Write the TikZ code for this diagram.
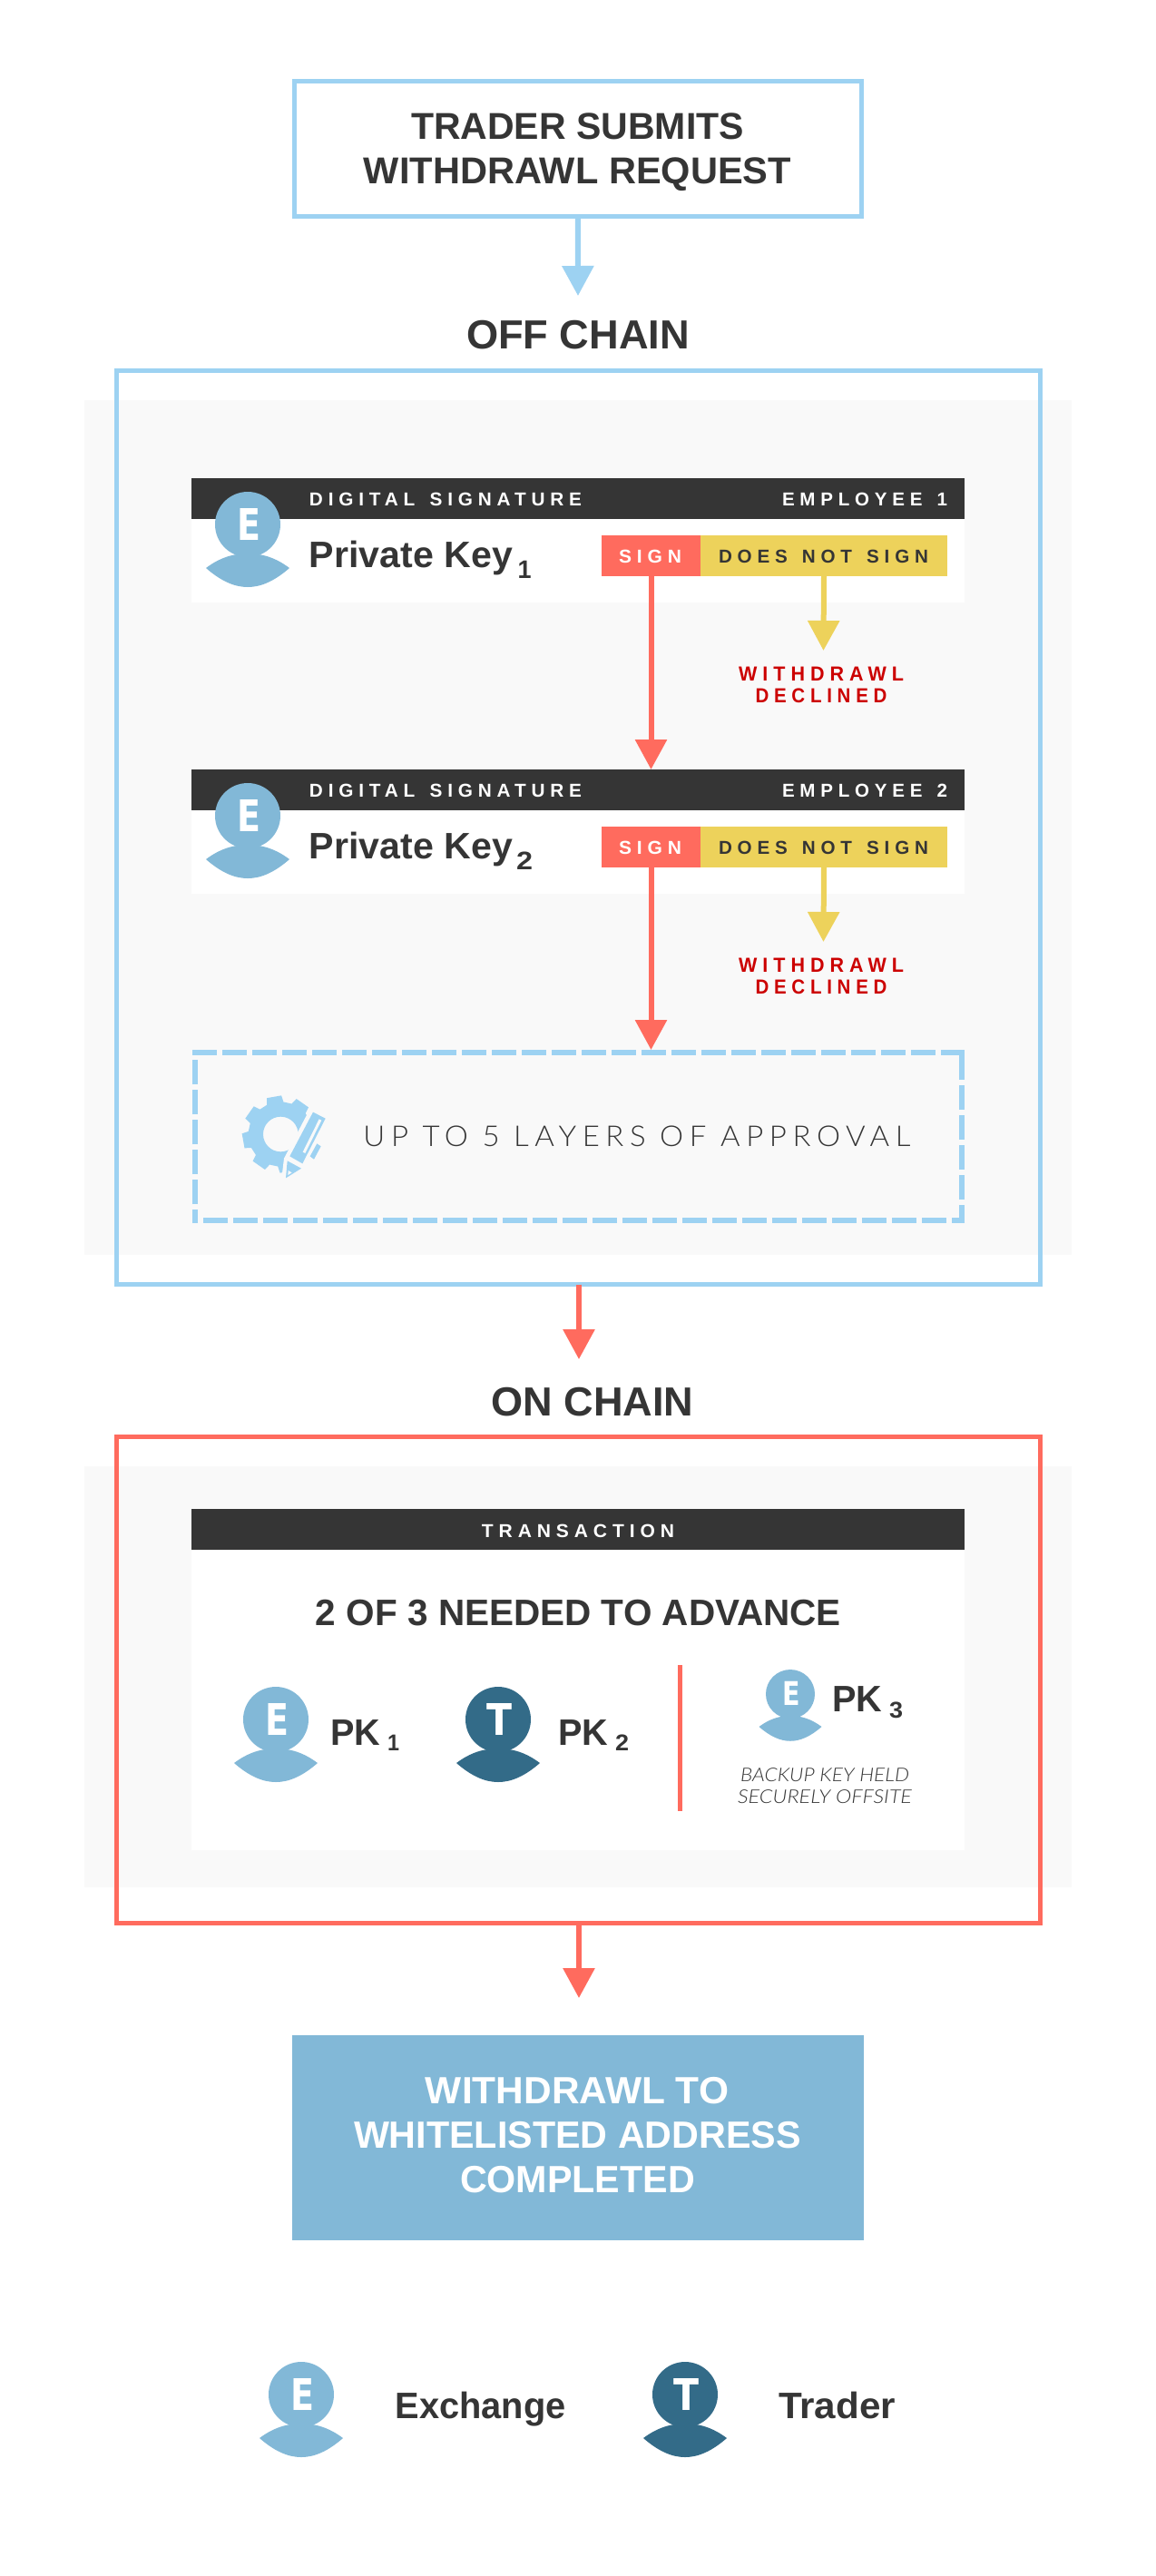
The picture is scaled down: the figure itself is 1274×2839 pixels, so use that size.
\documentclass[tikz,border=0pt]{standalone}
\usepackage{graphicx}
\usepackage{fontspec}
\usetikzlibrary{arrows.meta}
\newfontfamily\fbx{Liberation Sans}
\newfontfamily\flt{DejaVu Sans}
\newfontfamily\fsx{Liberation Sans}[LetterSpace=28,WordSpace=1.4]
\newfontfamily\fl{Lato}[UprightFont=* Light,ItalicFont=* Light Italic]
\newfontfamily\flsx{Lato}[UprightFont=* Light,LetterSpace=20]
\newcommand\fb{\fbx\bfseries}
\newcommand\fsp{\fsx\bfseries}
\newlength\ux \setlength\ux{0.5pt}
\definecolor{lblue}{HTML}{9DD2F2}
\definecolor{mblue}{HTML}{82B8D7}
\definecolor{dblue}{HTML}{336B88}
\definecolor{ink}{HTML}{353535}
\definecolor{coral}{HTML}{FF6B5E}
\definecolor{sun}{HTML}{EDD25B}
\definecolor{deep}{HTML}{CC0000}
\definecolor{bgray}{HTML}{F9F9F9}
\tikzset{
  rectbox/.style={rectangle,inner sep=0pt,outer sep=0pt},
  txt/.style={inner sep=0pt,outer sep=0pt,anchor=base},
  arr/.style={line width=3pt,-{Triangle[length=16.5pt,width=17pt]}},
  dashside/.style={lblue,line width=3pt,dash pattern=on 13.5pt off 3pt}
}
% name x1 y1 x2 y2 style
\newcommand\R[6]{\node[rectbox,#6,minimum width={((#4)-(#2))*0.5pt},minimum height={((#5)-(#3))*0.5pt}] (#1) at ({((#2)+(#4))/2},{((#3)+(#5))/2}) {};}
% name x baseline width colour size font text
\newcommand\T[8]{\node[txt,text=#5] (#1) at (#2,#3) {#7\fontsize{#6}{#6}\selectfont\resizebox{#4\ux}{\height}{#8}};}
% name x y scale colour letter-width letter
\newcommand\avatar[7]{%
\begin{scope}[shift={(#2,#3)},scale=#4,transform shape]
  \fill[#5] (0,0) circle (36);
  \fill[#5] (-46,48) .. controls (-30,36) and (-15,32) .. (0,32) .. controls (15,32) and (30,36) .. (46,48)
     .. controls (30,62) and (15,69) .. (0,69) .. controls (-15,69) and (-30,62) .. (-46,48) -- cycle;
  \node[txt,text=white] (#1) at (1,17) {\flt\bfseries\fontsize{24}{24}\selectfont\resizebox{#6\ux}{\height}{#7}};
\end{scope}}
% panel: suffix, y offset, employee text, subscript, sub width
\newcommand\panel[5]{%
  \R{white#1}{211}{#2+527}{1063}{#2+664}{fill=white}
  \R{head#1}{211}{#2+527}{1063}{#2+572}{fill=ink}
  \R{sign#1}{663}{#2+590}{772}{#2+635}{fill=coral}
  \R{nosign#1}{772}{#2+590}{1044}{#2+635}{fill=sun}
  \T{digital#1}{491}{#2+557}{300}{white}{10.3}{\fsp}{DIGITAL SIGNATURE}
  \T{employee#1}{953}{#2+557}{182}{white}{10.3}{\fsp}{#3}
  \T{signt#1}{716.5}{#2+620}{69}{white}{10.3}{\fsp}{SIGN}
  \T{nosignt#1}{907.5}{#2+620}{231}{ink}{10.3}{\fsp}{DOES NOT SIGN}
  \T{key#1}{453}{#2+625}{224}{ink}{20.3}{\fb}{Private Key}
  \T{keysub#1}{578}{#2+637}{#5}{ink}{14}{\fb}{#4}
  \avatar{ava#1}{273}{#2+578}{1}{mblue}{26}{E}
  \T{wd#1}{905}{#2+750}{182}{deep}{11.2}{\fsp}{WITHDRAWL}
  \T{dc#1}{905}{#2+774}{145}{deep}{11.2}{\fsp}{DECLINED}
  \coordinate (ytip#1) at (907.5,#2+717);
  \draw[arr,sun] (nosign#1.south) -- (ytip#1);
}
\begin{document}
\begin{tikzpicture}[x=0.5pt,y=-0.5pt]
\useasboundingbox[fill=white] (0,0) rectangle (1274,2839);
% grey backgrounds
\R{grayA}{93}{441}{1181}{1383}{fill=bgray}
\R{grayB}{93}{1616}{1181}{2080}{fill=bgray}
% outer frames
\R{offbox}{128.5}{408.5}{1146.5}{1415.5}{draw=lblue,line width=2.5pt}
\R{onbox}{128.5}{1583.5}{1146.5}{2119}{draw=coral,line width=2.5pt}
% first step
\R{topbox}{324.5}{89.5}{949}{238.5}{draw=lblue,line width=2.5pt}
\T{top1}{636.5}{153}{367}{ink}{20.6}{\fb}{TRADER SUBMITS}
\T{top2}{636.5}{202}{471}{ink}{20.6}{\fb}{WITHDRAWL REQUEST}
\T{offtitle}{637}{384}{246}{ink}{22.4}{\fb}{OFF CHAIN}
\coordinate (bluetip) at (637,326);
\draw[arr,lblue] (topbox.south) -- (bluetip);
% employee panels
\panel{A}{0}{EMPLOYEE 1}{1}{15}
\panel{B}{321}{EMPLOYEE 2}{2}{18}
\draw[arr,coral] (signA.south) -- (headB.north -| signA.south);
% dashed box
\R{dashbox}{212}{1157}{1063}{1348}{}
\draw[arr,coral] (signB.south) -- (dashbox.north -| signB.south);
\draw[dashside] (212,1160) -- (1063,1160);
\draw[dashside] (1060,1163) -- (1060,1348);
\draw[dashside,dash phase=6.5pt] (1063,1345) -- (212,1345);
\draw[dashside,dash phase=6pt] (215,1348) -- (215,1163);
% gear and pencil icon
\begin{scope}[shift={(260,1195)},scale=1/3]
  \begin{scope}[shift={(148,165)}]
    \fill[lblue,even odd rule] (20:107)
      \foreach \a in {35,80,125,170,215,260,305,350} { -- ({\a-15}:107) -- ({\a-11}:128) -- ({\a+11}:128) -- ({\a+15}:107) } -- cycle
      (0,0) circle (58);
  \end{scope}
  \fill[bgray] (262,48) -- (159,245) -- (150,320) -- (340,320) -- (340,48) -- cycle;
  \fill[lblue] (255,92) -- (296,113) -- (220,262) -- (178,238) -- cycle;
  \fill[bgray] (275,115) -- (283,119) -- (229,228) -- (221,224) -- cycle;
  \fill[lblue] (170,253) -- (216,278) -- (165,310) -- cycle;
  \fill[bgray] (173,285) -- (185,292) -- (172,300) -- cycle;
  \fill[lblue] (268,196) -- (281,205) -- (258,248) -- (245,238) -- cycle;
\end{scope}
\T{layers}{702}{1263}{603}{ink}{15.8}{\flsx}{UP TO 5 LAYERS OF APPROVAL}
% on chain
\T{ontitle}{653}{1560}{223}{ink}{22.4}{\fb}{ON CHAIN}
\coordinate (redtipA) at (638,1498);
\draw[arr,coral] (offbox.south -| redtipA) -- (redtipA);
\R{txwhite}{211}{1663}{1063}{2039}{fill=white}
\R{txhead}{211}{1663}{1063}{1708}{fill=ink}
\T{txt1}{637}{1694}{212}{white}{10.3}{\fsp}{TRANSACTION}
\T{needed}{637.5}{1791}{579}{ink}{20.3}{\fb}{2 OF 3 NEEDED TO ADVANCE}
\avatar{avaE}{304}{1895}{1}{mblue}{26}{E}
\T{pka}{391.5}{1923}{55}{ink}{20.3}{\fb}{PK}
\T{pkasub}{433.5}{1929}{13}{ink}{12.6}{\fb}{1}
\avatar{avaT}{549}{1895}{1}{dblue}{28}{T}
\T{pkb}{642.5}{1923}{55}{ink}{20.3}{\fb}{PK}
\T{pkbsub}{685.5}{1929}{15}{ink}{12.6}{\fb}{2}
\R{divider}{746.5}{1835}{751.5}{1996}{fill=coral}
\avatar{avaE3}{871}{1867}{0.75}{mblue}{26}{E}
\T{pkc}{944.5}{1886}{55}{ink}{20.3}{\fb}{PK}
\T{pkcsub}{987.5}{1893}{15}{ink}{12.6}{\fb}{3}
\T{backa}{909}{1963}{186}{ink}{10.4}{\fl\itshape}{BACKUP KEY HELD}
\T{backb}{909}{1987}{192}{ink}{10.4}{\fl\itshape}{SECURELY OFFSITE}
% last step
\coordinate (redtipB) at (638,2202);
\draw[arr,coral] (onbox.south -| redtipB) -- (redtipB);
\R{endbox}{322}{2243}{952}{2469}{fill=mblue}
\T{end1}{636}{2318}{334}{white}{20.9}{\fb}{WITHDRAWL TO}
\T{end2}{636.5}{2367}{493}{white}{20.9}{\fb}{WHITELISTED ADDRESS}
\T{end3}{636.5}{2416}{259}{white}{20.9}{\fb}{COMPLETED}
% legend
\avatar{legE}{332}{2639}{1}{mblue}{26}{E}
\T{legEt}{529.5}{2665}{188}{ink}{20.3}{\fb}{Exchange}
\avatar{legT}{755}{2639}{1}{dblue}{28}{T}
\T{legTt}{922.5}{2665}{129}{ink}{20.3}{\fb}{Trader}
\end{tikzpicture}
\end{document}
